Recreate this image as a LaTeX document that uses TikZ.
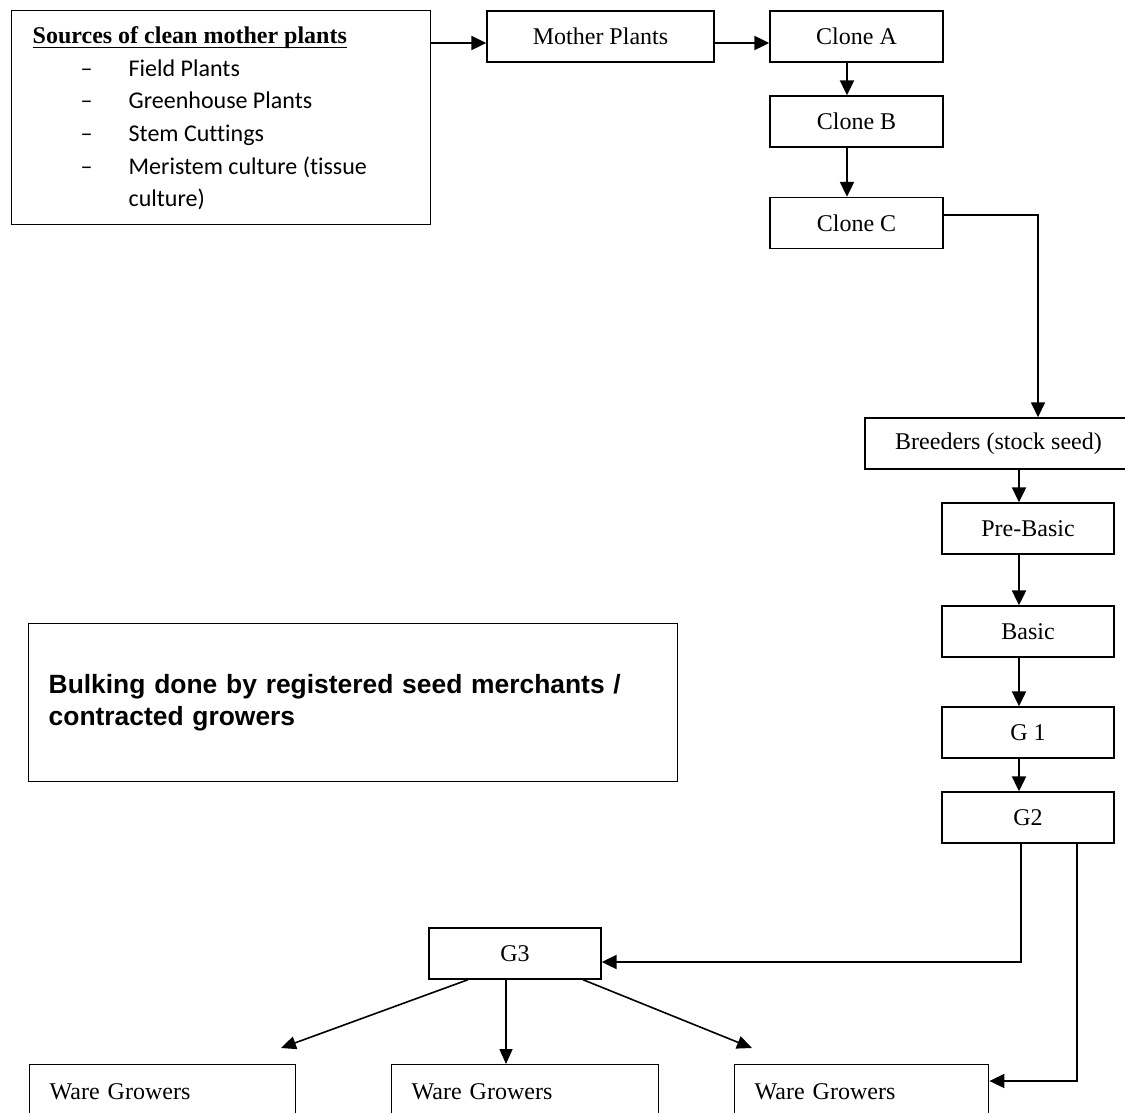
\documentclass[tikz,border=0pt]{standalone}
\usepackage{fontspec}
\setmainfont{Liberation Serif}
\newfontfamily\listfont[Ligatures=NoCommon]{Carlito}
\newfontfamily\notefont{Liberation Sans}
\usepackage{tikz}
\usetikzlibrary{arrows.meta}
\definecolor{boxcol}{HTML}{000000}
\newcommand{\srcitem}[1]{\hspace*{24pt}\makebox[24pt][l]{–}#1}
\newcommand{\srctitle}[1]{\setbox0\hbox{#1}\rlap{\rule[-2.2pt]{\wd0}{0.65pt}}\box0}

\begin{document}
\begin{tikzpicture}[
  x=0.5pt, y=-0.5pt, >={Triangle[length=7.5pt,width=7pt]},
  font=\fontsize{12}{14}\selectfont,
  box/.style={draw=boxcol, line width=0.7pt, minimum width=86pt, minimum height=25.5pt, inner sep=0pt},
  flow/.style={->, line width=1.1pt},
  thinflow/.style={-{Triangle[length=7.5pt,width=6.5pt]}, line width=0.8pt}
]
\useasboundingbox (0,0) rectangle (1125,1113);

\node[box, anchor=north west, inner xsep=10.5pt, inner ysep=7pt] (src) at (11,10)
  {\parbox[c][93pt][t]{188.5pt}{\listfont\fontsize{12}{16.3}\selectfont
   \rule{0pt}{9.5pt}{\rmfamily\bfseries\srctitle{Sources of clean mother plants}}\\
   \srcitem{Field Plants}\\
   \srcitem{Greenhouse Plants}\\
   \srcitem{Stem Cuttings}\\
   \srcitem{Meristem culture (tissue}\\
   \hspace*{48pt}culture)}};
\node[box, minimum width=113.5pt] (mp) at (600.5,36.5) {Mother Plants};
\node[box, minimum width=86.5pt] (cla) at (856.5,36.5) {Clone A};
\node[box, minimum width=86.5pt] (clb) at (856.5,121.5) {Clone B};
\node[box, minimum width=86.5pt] (clc) at (856.5,223) {Clone C};
\node[box, minimum width=133.5pt] (bre) at (998.5,443.5) {Breeders (stock seed)};
\node[box] (pre) at (1028,528.5) {Pre-Basic};
\node[box] (bas) at (1028,631.5) {Basic};
\node[box] (g1) at (1028,732.5) {G 1};
\node[box] (g2) at (1028,817.5) {G2};
\node[box] (g3) at (515,953.5) {G3};
\node[box, anchor=north west, minimum width=324.5pt, minimum height=79pt, align=left,
  text width=304.5pt, inner xsep=10pt, font=\notefont\bfseries\fontsize{13.2}{16}\selectfont]
  (bulk) at (28,623) {Bulking done by registered seed merchants /\\contracted growers};
\node[box, anchor=north west, minimum width=133pt, align=left, text width=113pt,
  inner xsep=10pt, inner ysep=9.5pt] (wg1) at (29,1064) {Ware Growers};
\node[box, anchor=north west, minimum width=133.5pt, align=left, text width=113.5pt,
  inner xsep=10pt, inner ysep=9.5pt] (wg2) at (391,1064) {Ware Growers};
\node[box, anchor=north west, minimum width=127pt, align=left, text width=107pt,
  inner xsep=10pt, inner ysep=9.5pt] (wg3) at (734,1064) {Ware Growers};

\coordinate (tipl) at (281,1048);
\coordinate (tipr) at (752,1048);

\draw[flow] (src.east |- 0,43) -- (mp.west |- 0,43);
\draw[flow] (mp.east |- 0,43) -- (cla.west |- 0,43);
\draw[flow] (cla.south -| 847,0) -- (clb.north -| 847,0);
\draw[flow] (clb.south -| 847,0) -- (clc.north -| 847,0);
\draw[flow, line width=0.8pt] (clc.east |- 0,215) -| (bre.north -| 1038,0);
\draw[flow] (bre.south -| 1019,0) -- (pre.north -| 1019,0);
\draw[flow] (pre.south -| 1019,0) -- (bas.north -| 1019,0);
\draw[flow] (bas.south -| 1019,0) -- (g1.north -| 1019,0);
\draw[flow] (g1.south -| 1019,0) -- (g2.north -| 1019,0);
\draw[flow] (g2.south -| 1021,0) |- (g3.east |- 0,962);
\draw[flow, line width=0.8pt] (g2.south -| 1077,0) |- (wg3.east |- 0,1081);
\draw[thinflow] (g3.south -| 468,0) -- (tipl);
\draw[thinflow] (g3.south -| 506,0) -- (wg2.north -| 506,0);
\draw[thinflow] (g3.south -| 583,0) -- (tipr);
\end{tikzpicture}
\end{document}
